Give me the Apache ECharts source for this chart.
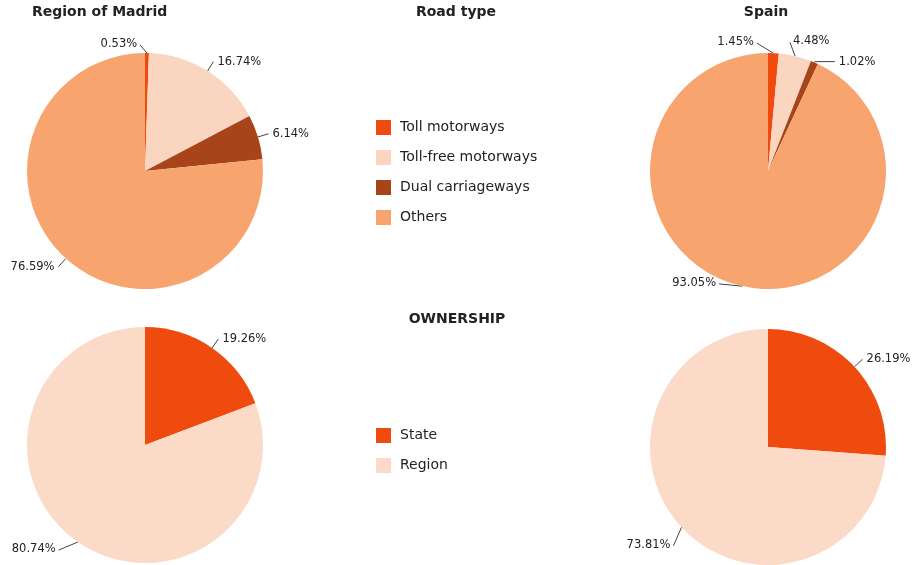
<!DOCTYPE html>
<html>
  <head>
    <meta charset="utf-8" />
    <title>Road type and ownership</title>
    <script src="https://cdn.jsdelivr.net/npm/echarts@6/dist/echarts.min.js"></script>
  </head>
  <body style="margin:0;background:#fff;">
    <div id="main" style="width:915px;height:565px;"></div>
    <script type="text/javascript">
      // data (percent)
      const roadTypes = ["Toll motorways", "Toll-free motorways", "Dual carriageways", "Others"];
      const roadColors = ["#f04b0e", "#fad6c0", "#a8441a", "#f7a46e"];
      const madridRoad = [0.53, 16.74, 6.14, 76.59];
      const spainRoad = [1.45, 4.48, 1.02, 93.05];

      const owners = ["State", "Region"];
      const ownerColors = ["#f04b0e", "#fbdac7"];
      const madridOwn = [19.26, 80.74];
      const spainOwn = [26.19, 73.81];

      const font = "DejaVu Sans, Verdana, sans-serif";

      const toData = (names, values, colors) =>
        names.map((n, i) => ({ name: n, value: values[i], itemStyle: { color: colors[i] } }));

      // label nudges per slice index; the leader line is redrawn to the moved label
      const nudge = (moves) => params => {
        const m = moves[params.dataIndex];
        if (!m) return {};
        const r = params.labelRect;
        const dx = m.flip ? -(r.width + m.flip) : (m.dx || 0);
        const dy = m.dy || 0;
        const nx = r.x + dx, ny = r.y + dy;
        const p0 = params.labelLinePoints ? params.labelLinePoints[0] : null;
        const out = { dx: dx, dy: dy };
        if (p0) {
          let end;
          if (p0[0] > nx + r.width * 0.7) end = [nx + r.width + 3, ny + r.height / 2 + 1];
          else if (p0[0] < nx + r.width * 0.3) end = [nx - 3, ny + r.height / 2 + 1];
          else end = [p0[0] - 1, p0[1] < ny ? ny - 2 : ny + r.height + 2];
          out.labelLinePoints = [p0, end];
        }
        return out;
      };

      const pie = (center, data, moves) => ({
        type: "pie",
        center: center,
        radius: 118,
        startAngle: 90,
        clockwise: true,
        avoidLabelOverlap: false,
        data: data,
        label: {
          color: "#222",
          fontFamily: font,
          fontSize: 11.5,
          distanceToLabelLine: 4,
          overflow: "none",
          formatter: p => p.value.toFixed(2) + "%"
        },
        labelLine: {
          length: 11,
          length2: 0,
          lineStyle: { color: "#444", width: 1 }
        },
        labelLayout: nudge(moves || {}),
        emphasis: { scale: false }
      });

      const titleStyle = { color: "#222", fontFamily: font, fontSize: 14, fontWeight: "bold" };
      const legendBase = {
        orient: "vertical",
        left: 376,
        padding: 0,
        icon: "rect",
        itemWidth: 15,
        itemHeight: 15,
        itemGap: 15,
        textStyle: { color: "#222", fontFamily: font, fontSize: 14, padding: [0, 0, 0, 4] }
      };

      const spainData = toData(roadTypes, spainRoad, roadColors);
      spainData[1].labelLine = { length: 8, length2: 0 };
      spainData[2].labelLine = { length: 1, length2: 20 };

      const myChart = echarts.init(document.getElementById("main"));
      const option = {
        animation: false,
        title: [
          { text: "Region of Madrid", left: 32, top: 5, padding: 0, textStyle: titleStyle },
          { text: "Road type", left: 456, top: 5, padding: 0, textAlign: "center", textStyle: titleStyle },
          { text: "Spain", left: 766, top: 5, padding: 0, textAlign: "center", textStyle: titleStyle },
          { text: "OWNERSHIP", left: 457, top: 312, padding: 0, textAlign: "center", textStyle: titleStyle }
        ],
        legend: [
          Object.assign({}, legendBase, { data: roadTypes, top: 120 }),
          Object.assign({}, legendBase, { data: owners, top: 428 })
        ],
        series: [
          pie([145, 171], toData(roadTypes, madridRoad, roadColors), { 0: { flip: 14, dy: 2 } }),
          pie([768, 171], spainData, {
            0: { flip: 24, dy: 0 },
            1: { dx: -8, dy: -7 },
            3: { dx: -20, dy: -14 }
          }),
          pie([145, 445], toData(owners, madridOwn, ownerColors), { 1: { dx: -12, dy: -2 } }),
          pie([768, 447], toData(owners, spainOwn, ownerColors), { 1: { dx: 1, dy: 10 } })
        ]
      };
      myChart.setOption(option);
    </script>
  </body>
</html>
